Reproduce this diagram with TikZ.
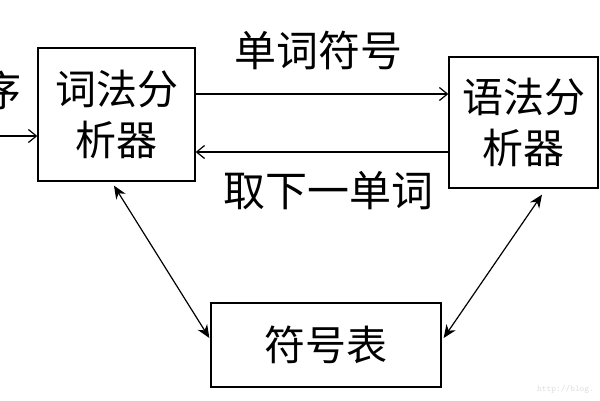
\documentclass[tikz,border=0pt]{standalone}
\usepackage{fontspec}
\newfontfamily\cjk{Noto Sans CJK SC}
\usetikzlibrary{arrows.meta}
\tikzset{
  box/.style={draw, line width=1.3pt, inner sep=0pt, align=center,
    font=\cjk\fontsize{41}{51}\selectfont},
  lbl/.style={inner sep=0pt, font=\cjk\fontsize{42}{48}\selectfont},
  arr/.style={line width=1.2pt, -{Straight Barb[length=8pt,width=13pt]}},
  dbl/.style={line width=1.2pt, {Stealth[length=13pt,width=11pt,inset=4pt]}-{Stealth[length=13pt,width=11pt,inset=4pt]}},
  wm/.style={inner sep=0pt, text=black!12, font=\ttfamily\fontsize{9}{10}\selectfont}
}
\begin{document}
\begin{tikzpicture}[x=1pt,y=-1pt]
\clip (0,0) rectangle (600,400);
\fill[white] (0,0) rectangle (600,400);
\node[box, minimum width=157pt, minimum height=133pt] (L) at (116.5,114.5) {词法分\\析器};
\node[box, minimum width=149pt, minimum height=131pt] (R) at (523.5,122.5) {语法分\\析器};
\node[box, minimum width=230pt, minimum height=84pt] (B) at (326,345) {符号表};
\node[lbl] (t1) at (318,50) {单词符号};
\node[lbl] (t2) at (328.5,191) {取下一单词};
\node[lbl] (t3) at (1,90) {序};
\node[wm, anchor=west] (w) at (537,389) {http://blog.};
\coordinate (ya) at (0,94);
\coordinate (yb) at (0,152);
\coordinate (in) at (-2,136);
\draw[arr] (L.east |- ya) -- (R.west |- ya);
\draw[arr] (R.west |- yb) -- (L.east |- yb);
\draw[arr] (in) -- (L.west |- in);
\draw[dbl] ([shift={(-2.5,4)}]L.south) -- ([shift={(-1,-7)}]B.west);
\draw[dbl] ([shift={(18.5,6)}]R.south) -- ([shift={(2,-7)}]B.east);
\end{tikzpicture}
\end{document}
